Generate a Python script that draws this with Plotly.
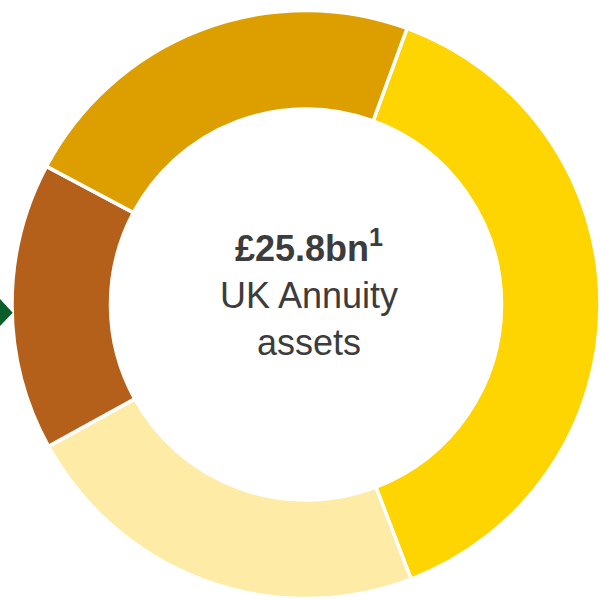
import plotly.graph_objects as go

labels = ["Segment A", "Segment B", "Segment C", "Segment D"]
values = [38.6, 22.8, 15.8, 22.8]
colors = ["#FED500", "#FEEBA5", "#B5601A", "#DD9F00"]
center_title = "£25.8bn<sup>1</sup>"
center_sub = ["UK Annuity", "assets"]

fig = go.Figure()
fig.add_trace(go.Pie(
    labels=labels,
    values=values,
    sort=False,
    direction="clockwise",
    rotation=20.1,
    hole=0.665,
    textinfo="none",
    hoverinfo="label+percent",
    marker=dict(colors=colors, line=dict(color="white", width=3.5)),
    domain=dict(x=[0.02, 1.0], y=[0.0025, 0.9825]),
    showlegend=False,
))

fig.add_annotation(
    x=308.5 / 600, y=(600 - 293) / 600, xref="paper", yref="paper",
    xanchor="center", yanchor="middle", showarrow=False,
    text="<b>" + center_title + "</b><br>" + "<br>".join(center_sub),
    font=dict(family="Liberation Sans, Arial, sans-serif", size=36, color="#3C3C3C"),
    align="center",
)

# green pointer on the left edge
fig.add_shape(
    type="path", xref="paper", yref="paper",
    path="M 0 {a} L {tx} {m} L 0 {b} Z".format(
        a=(600 - 299) / 600, m=(600 - 312.7) / 600, b=(600 - 326) / 600, tx=12.7 / 600),
    fillcolor="#0B5E2A", line=dict(width=0),
)

fig.update_layout(
    width=600, height=600,
    margin=dict(l=0, r=0, t=0, b=0),
    paper_bgcolor="white", plot_bgcolor="white",
)

fig.write_html("out.html", config={"displayModeBar": False},
               post_script="document.body.style.margin='0';")
